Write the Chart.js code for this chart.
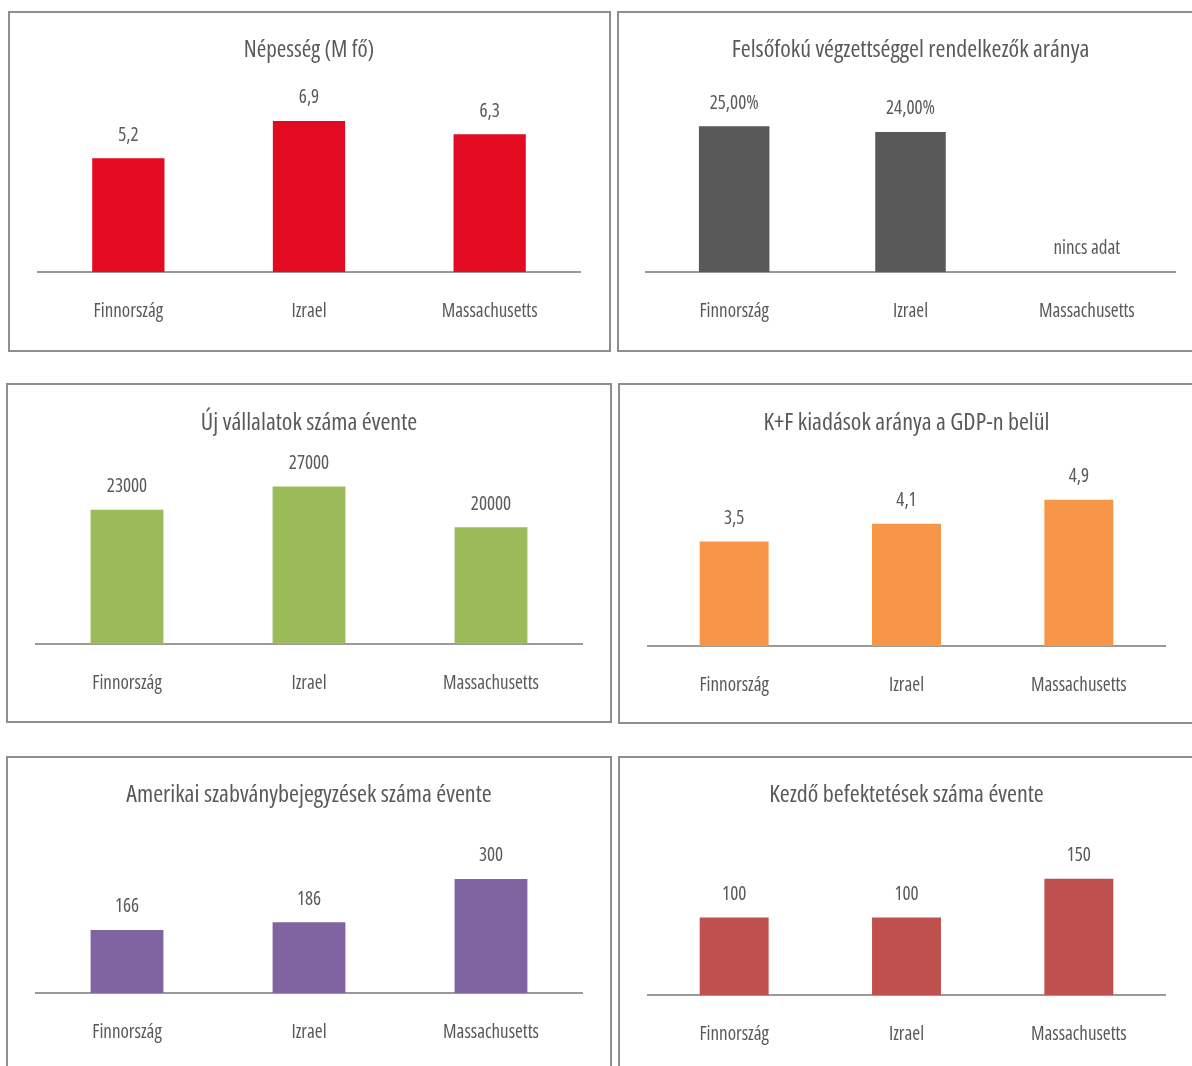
<!DOCTYPE html>
<html>
<head>
<meta charset="utf-8">
<script src="https://cdn.jsdelivr.net/npm/chart.js@4/dist/chart.umd.min.js"></script>
<style>
  html, body { margin: 0; padding: 0; background: #fff; }
  body { width: 1192px; height: 1066px; position: relative; overflow: hidden; }
  .panel { position: absolute; border: 2px solid #8e8e8e; background: #fff; }
  .panel canvas { display: block; }
</style>
</head>
<body>
<div class="panel" style="left:8px;top:11px;"><canvas id="c1" width="599" height="337"></canvas></div>
<div class="panel" style="left:617px;top:11px;"><canvas id="c2" width="586" height="337"></canvas></div>
<div class="panel" style="left:6px;top:383px;"><canvas id="c3" width="602" height="336"></canvas></div>
<div class="panel" style="left:618px;top:383px;"><canvas id="c4" width="586" height="337"></canvas></div>
<div class="panel" style="left:6px;top:756px;"><canvas id="c5" width="602" height="326"></canvas></div>
<div class="panel" style="left:618px;top:756px;"><canvas id="c6" width="586" height="326"></canvas></div>
<script>
// data
const categories = ['Finnország', 'Izrael', 'Massachusetts'];
const nepesseg = [5.2, 6.9, 6.3];
const felsofoku = [25, 24, null];
const ujVallalatok = [23000, 27000, 20000];
const kfArany = [3.5, 4.1, 4.9];
const szabvanyok = [166, 186, 300];
const befektetesek = [100, 100, 150];

const FAMILY = '"Open Sans", sans-serif';
// font-stretch rides in the weight slot of the canvas font string
const WEIGHT = 'normal condensed';
const TEXT = '#595959';

const comma1 = v => v.toFixed(1).replace('.', ',');
const pct2 = v => v.toFixed(2).replace('.', ',') + '%';
const plain = v => String(v);

const formatters = {};

// value labels above the bars
const valueLabels = {
  id: 'valueLabels',
  afterDatasetsDraw(chart) {
    const fmt = formatters[chart.canvas.id];
    const ds = chart.data.datasets[0].data;
    const ctx = chart.ctx;
    ctx.save();
    ctx.font = WEIGHT + ' 19px ' + FAMILY;
    ctx.fillStyle = TEXT;
    ctx.textAlign = 'center';
    ctx.textBaseline = 'middle';
    ds.forEach((v, i) => {
      const x = chart.scales.x.getPixelForValue(i);
      const y = chart.scales.y.getPixelForValue(v == null ? 0 : v);
      ctx.fillText(v == null ? 'nincs adat' : fmt(v), x, y - 23);
    });
    ctx.restore();
  }
};

function makeChart(id, title, values, color, opt) {
  const size = opt.titleSize || 24;
  const lh = size * 1.2;
  formatters[id] = opt.fmt;
  new Chart(document.getElementById(id), {
    type: 'bar',
    data: {
      labels: categories,
      datasets: [{ data: values, backgroundColor: color, borderWidth: 0,
                   barPercentage: 0.4, categoryPercentage: 1 }]
    },
    options: {
      responsive: false,
      animation: false,
      devicePixelRatio: 1,
      layout: { padding: { left: opt.left, right: opt.right, top: 0, bottom: opt.bottom } },
      plugins: {
        legend: { display: false },
        tooltip: { enabled: false },
        title: {
          display: true, text: title, color: TEXT, fullSize: false,
          font: { family: FAMILY, size: size, weight: WEIGHT },
          padding: { top: opt.titleY - lh / 2, bottom: opt.top - opt.titleY - lh / 2 }
        }
      },
      scales: {
        x: {
          grid: { display: false, drawTicks: false },
          border: { display: true, color: '#9a9a9a', width: 2 },
          ticks: { color: TEXT, padding: 28, font: { family: FAMILY, size: 19, weight: WEIGHT } },
          afterFit: s => { s.height = 60; }
        },
        y: { display: false, min: 0, max: opt.max }
      }
    },
    plugins: [valueLabels]
  });
}

makeChart('c1', 'Népesség (M fő)', nepesseg, '#e30b21',
  { titleSize: 23, left: 28, right: 29, bottom: 18, top: 84, titleY: 37, max: 8, fmt: comma1 });
makeChart('c2', 'Felsőfokú végzettséggel rendelkezők aránya', felsofoku, '#595959',
  { left: 27, right: 30, bottom: 18, top: 84, titleY: 37, max: 30, fmt: pct2 });
makeChart('c3', 'Új vállalatok száma évente', ujVallalatok, '#9bbb59',
  { left: 28, right: 28, bottom: 17, top: 84, titleY: 38, max: 30000, fmt: plain });
makeChart('c4', 'K+F kiadások aránya a GDP-n belül', kfArany, '#f79646',
  { left: 28, right: 41, bottom: 16, top: 82, titleY: 38, max: 6, fmt: comma1 });
makeChart('c5', 'Amerikai szabványbejegyzések száma évente', szabvanyok, '#8064a2',
  { left: 28, right: 28, bottom: 31, top: 64, titleY: 37, max: 450, fmt: plain });
makeChart('c6', 'Kezdő befektetések száma évente', befektetesek, '#c0504d',
  { left: 28, right: 41, bottom: 29, top: 82, titleY: 37, max: 200, fmt: plain });
</script>
</body>
</html>
